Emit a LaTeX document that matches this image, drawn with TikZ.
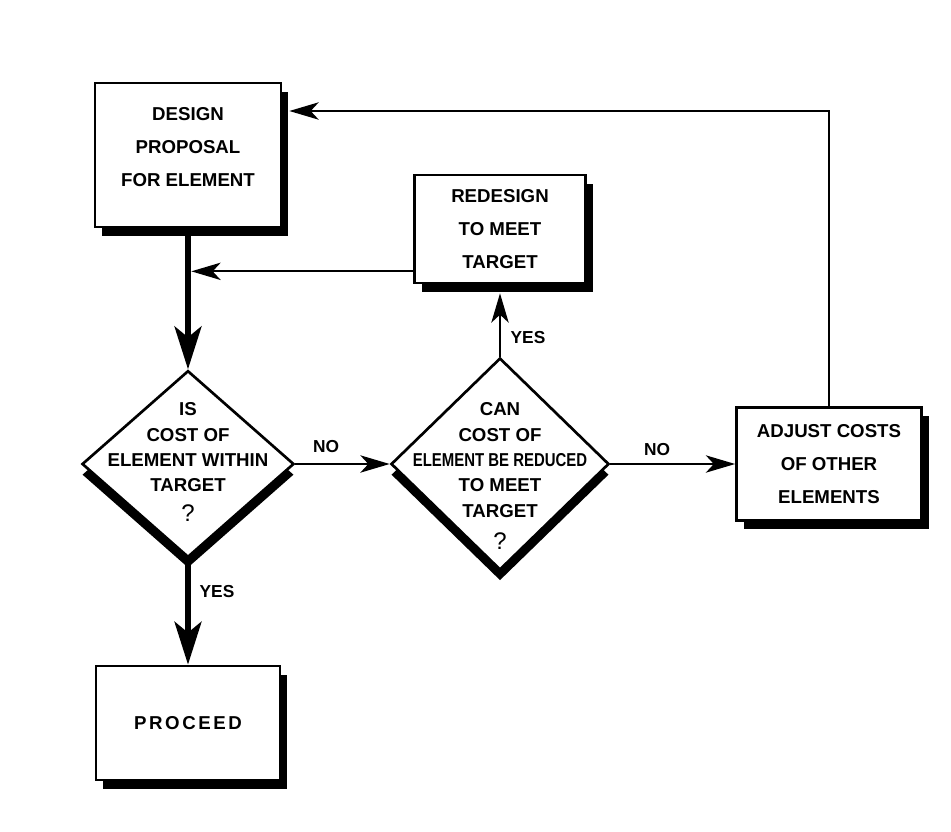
\documentclass[tikz,border=0pt]{standalone}
\usepackage{fontspec}
\setmainfont{Liberation Sans}
\usepackage{graphicx}
\usetikzlibrary{shapes.geometric,shadows,arrows.meta}

\newcommand{\blockfont}{\fontsize{14}{24.75}\selectfont\bfseries}
\newcommand{\questfont}{\fontsize{14}{19}\selectfont\bfseries}
\newcommand{\questmark}{{\fontsize{18}{19}\selectfont\mdseries ?}}
\newcommand{\tagfont}{\fontsize{13}{15}\selectfont\bfseries}

\tikzset{every picture/.style={line width=0.75pt}}
\tikzset{
	block/.style={draw, line width=2pt, fill=white, inner sep=0pt, align=center, font=\blockfont,
		drop shadow={shadow xshift=5.5pt, shadow yshift=-6.5pt, fill=black, opacity=1}},
	decision/.style={diamond, draw, line width=2pt, fill=white, inner sep=0pt,
		drop shadow={shadow xshift=0pt, shadow yshift=-8pt, fill=black, opacity=1}},
	decisiontext/.style={align=center, font=\questfont, inner sep=0pt},
	flow/.style={line width=1.5pt, -{Stealth[length=22pt, width=13pt, inset=6pt]}},
	mainflow/.style={line width=5pt, -{Stealth[length=32pt, width=20pt, inset=8pt]}},
	flowtag/.style={font=\tagfont, inner sep=0pt},
}

\begin{document}
\begin{tikzpicture}[x=0.75pt,y=0.75pt,yscale=-1,xscale=1]
	\useasboundingbox (0,0) rectangle (951,832);
	
	%Shape: Rectangle
	\node [block, minimum width=139.5pt, minimum height=108pt] (design) at (188,155) {DESIGN\\PROPOSAL\\FOR ELEMENT\\[-12pt]\mbox{}};
	%Shape: Rectangle
	\node [block, minimum width=128.25pt, minimum height=81pt] (redesign) at (500,229) {REDESIGN\\TO MEET\\TARGET};
	%Shape: Rectangle
	\node [block, minimum width=138.75pt, minimum height=84.75pt] (adjust) at (829,464) {ADJUST COSTS\\OF OTHER\\ELEMENTS};
	%Shape: Rectangle
	\node [block, minimum width=138pt, minimum height=85.5pt] (proceed) at (188,723) {\addfontfeature{LetterSpace=14}PROCEED};
	%Shape: Diamond
	\node [decision, minimum width=159pt, minimum height=140pt] (cost) at (188,464) {};
	%Shape: Diamond
	\node [decision, minimum width=163.5pt, minimum height=159pt] (reduce) at (500,464) {};
	
	% Text Node
	\node [decisiontext] (costtext) at ([shift={(0,-2)}]cost.center) {IS\\COST OF\\ELEMENT WITHIN\\TARGET\\[3pt]\questmark};
	% Text Node
	\node [decisiontext] (reducetext) at ([shift={(0,12)}]reduce.center) {CAN\\COST OF\\\scalebox{0.8}[1]{ELEMENT BE REDUCED}\\TO MEET\\TARGET\\[5pt]\questmark};
	% Text Node
	\node [flowtag] (noleft) at (326,447) {NO};
	% Text Node
	\node [flowtag] (noright) at (657,450) {NO};
	% Text Node
	\node [flowtag] (yesup) at (528,338) {YES};
	% Text Node
	\node [flowtag] (yesdown) at (217,592) {YES};
	
	\coordinate (merge) at ([shift={(0,43)}]design.south);
	
	% Connection
	\draw [mainflow] (design.south) -- (cost.north);
	% Connection
	\draw [mainflow] (cost.south) -- (proceed.north);
	% Connection
	\draw [flow] (cost.east) -- (reduce.west);
	% Connection
	\draw [flow] (reduce.east) -- (adjust.west);
	% Connection
	\draw [flow] (reduce.north) -- ([shift={(0,9)}]redesign.south);
	% Connection
	\draw [flow, shorten >=2.5pt] ([shift={(0,-13)}]redesign.south west) -- (merge);
	% Connection
	\draw [flow] (adjust.north) |- ([shift={(7,-44)}]design.east);
	
\end{tikzpicture}
\end{document}
